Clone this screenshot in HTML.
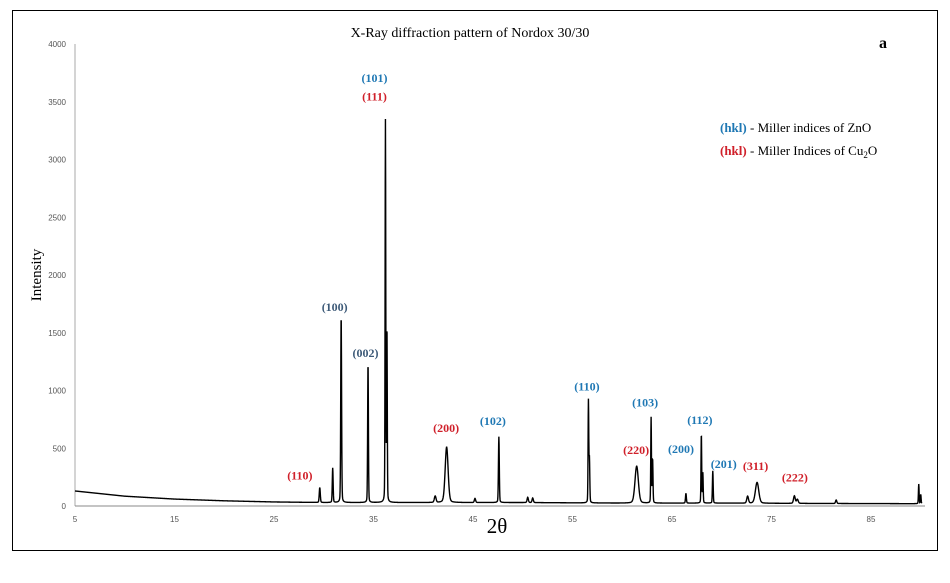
<!DOCTYPE html>
<html><head><meta charset="utf-8"><style>
html,body{margin:0;padding:0;background:#fff;width:950px;height:583px;overflow:hidden}
svg{display:block}
.tk{font-family:"Liberation Sans",sans-serif;font-size:8px;fill:#555}
.lb{font-family:"Liberation Serif",serif;font-size:12px;font-weight:bold}
</style></head><body>
<svg id="chart" width="950" height="583">
<rect x="12.5" y="10.5" width="925" height="540" fill="none" stroke="#000" stroke-width="1"/>
<text x="470" y="37" text-anchor="middle" font-family="Liberation Serif,serif" font-size="14">X-Ray diffraction pattern of Nordox 30/30</text>
<text x="883" y="48" text-anchor="middle" font-family="Liberation Serif,serif" font-size="16" font-weight="bold">a</text>
<text transform="translate(41,275) rotate(-90)" text-anchor="middle" font-family="Liberation Serif,serif" font-size="15">Intensity</text>
<text x="497" y="533" text-anchor="middle" font-family="Liberation Serif,serif" font-size="21">2θ</text>
<g font-family="Liberation Serif,serif" font-size="13">
<text x="720" y="132"><tspan fill="#1f78b4" font-weight="bold">(hkl)</tspan> - Miller indices of ZnO</text>
<text x="720" y="155"><tspan fill="#d0202a" font-weight="bold">(hkl)</tspan> - Miller Indices of Cu<tspan font-size="9" dy="3">2</tspan><tspan dy="-3">O</tspan></text>
</g>
<g id="axes"></g>
<path id="trace" fill="none" stroke="#000" stroke-width="1.4"/>
<g id="labels"></g>
</svg>
<script>
const peakPos=[29.6,30.9,31.75,34.45,36.2,36.35,41.2,42.35,45.2,47.6,50.5,51.0,56.6,56.7,61.45,62.9,63.05,66.4,67.95,68.1,69.1,72.6,73.55,77.3,77.6,81.5,89.8,90.0];
const peakHeight=[130,300,1620,1210,3300,1500,55,480,35,570,45,40,880,380,320,740,380,85,600,260,280,60,180,65,35,30,170,80];
const peakWidth=[0.12,0.1,0.1,0.09,0.08,0.08,0.2,0.35,0.15,0.1,0.15,0.15,0.08,0.09,0.4,0.08,0.09,0.1,0.08,0.08,0.09,0.2,0.4,0.2,0.2,0.15,0.08,0.08];
const baseX=[5,10,15,20,25,30,40,50,60,70,80,90];
const baseY=[130,85,60,45,35,30,30,30,25,25,22,20];
const xTicks=[5,15,25,35,45,55,65,75,85];
const yTicks=[0,500,1000,1500,2000,2500,3000,3500,4000];
const lblText=["(110)","(100)","(002)","(101)","(111)","(200)","(102)","(110)","(220)","(103)","(200)","(112)","(201)","(311)","(222)"];
const lblX=[27.6,31.1,34.2,35.1,35.1,42.3,47.0,56.45,61.4,62.3,65.9,67.8,70.2,73.4,77.35];
const lblY=[230,1690,1290,3670,3510,640,700,1000,450,860,460,710,330,310,210];
const lblZnO=[0,1,1,1,0,0,1,1,0,1,1,1,1,0,0];
const X0=75,X1=871,Y0=506,Y1=44;
const sx=v=>X0+(v-5)*(X1-X0)/80;
const sy=v=>Y0-(v/4000)*(Y0-Y1);
const NS="http://www.w3.org/2000/svg";
const ax=document.getElementById('axes');
function mk(t,a,p){const e=document.createElementNS(NS,t);for(const k in a)e.setAttribute(k,a[k]);p.appendChild(e);return e;}
const yl=mk('line',{x1:X0,y1:Y1,x2:X0,y2:Y0,stroke:'#aaa'},ax);


const xl=mk('line',{x1:X0,y1:Y0,x2:925,y2:Y0,stroke:'#888'},ax);


yTicks.forEach(v=>{const t=mk('text',{x:66,y:sy(v)+3,'text-anchor':'end',class:'tk'},ax);t.textContent=v;

});
xTicks.forEach(v=>{const t=mk('text',{x:sx(v),y:522,'text-anchor':'middle',class:'tk'},ax);t.textContent=v;

});
function base(x){for(let i=0;i<baseX.length-1;i++){if(x<=baseX[i+1]){const f=(x-baseX[i])/(baseX[i+1]-baseX[i]);return baseY[i]+f*(baseY[i+1]-baseY[i]);}}return baseY[baseY.length-1];}
let d='';
for(let x=5;x<=90.1;x+=0.02){let y=base(x);for(let i=0;i<peakPos.length;i++){const u=(x-peakPos[i])/peakWidth[i];y+=peakHeight[i]*(0.8*Math.exp(-2.77*u*u)+0.2/(1+4*u*u));}
d+=(d?'L':'M')+sx(x).toFixed(2)+' '+sy(y).toFixed(2);}
document.getElementById('trace').setAttribute('d',d);
const lg=document.getElementById('labels');
lblText.forEach((s,i)=>{const t=mk('text',{x:sx(lblX[i]),y:sy(lblY[i]),'text-anchor':'middle',class:'lb',fill:lblZnO[i]?(i<3?'#3d5a78':'#1f78b4'):'#d0202a'},lg);t.textContent=s;

});
</script>
</body></html>
